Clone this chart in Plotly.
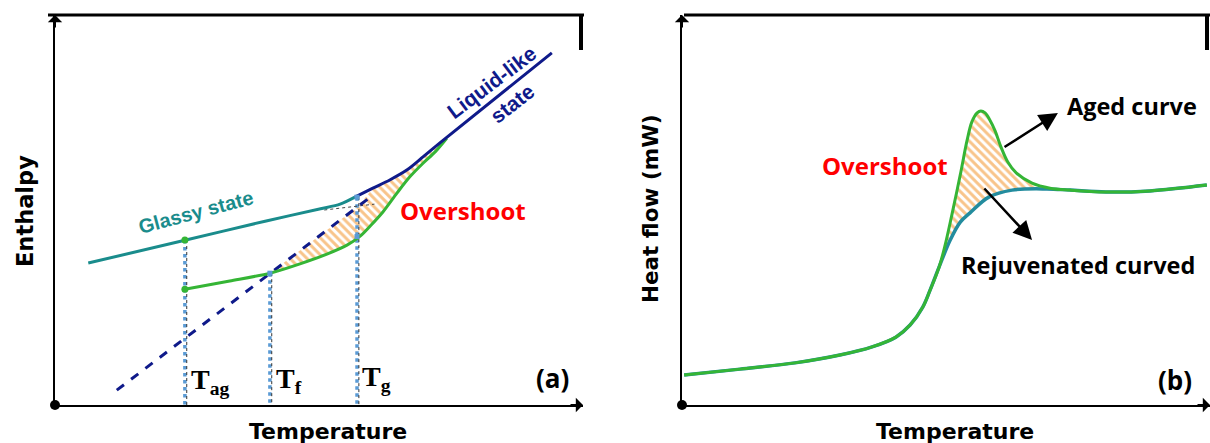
import plotly.graph_objects as go

# ---------------- Panel (a): enthalpy vs temperature (arbitrary units 0-100) ----------------
glassy_T = [6.3, 24.8, 40.0, 50.3, 54.0, 56.8]
glassy_H = [36.4, 42.3, 47.2, 50.3, 51.5, 53.3]

liquid_T = [56.8, 60.2, 63.4, 66.7, 69.7, 72.9, 94.1]
liquid_H = [53.3, 55.6, 57.7, 60.3, 63.6, 67.2, 90.3]

extrap_T = [11.7, 60.0]
extrap_H = [3.8, 53.6]

aged_T = [24.6, 33.1, 40.7, 46.4, 51.5, 55.3, 57.8, 59.7, 62.1, 64.8, 67.2, 69.7, 72.0, 74.2]
aged_H = [29.7, 31.8, 33.8, 36.2, 38.7, 41.0, 43.3, 45.9, 49.5, 54.4, 58.5, 62.0, 64.9, 68.4]

# hatched overshoot region (upper boundary: extrapolated liquid line then liquid curve)
hatchA_upper_T = [40.7, 57.4, 60.2, 63.4, 66.7, 69.7, 72.9, 74.2]
hatchA_upper_H = [33.8, 50.9, 55.6, 57.7, 60.3, 63.6, 67.2, 68.6]

T_ag, T_f, T_g = 24.6, 40.7, 57.2
T_ag_top, T_f_top, T_g_top = 42.3, 33.8, 53.3
T_g_green = 43.2
aged_start_H = 29.7

temp_labels = ["T<sub>ag</sub>", "T<sub>f</sub>", "T<sub>g</sub>"]

# ---------------- Panel (b): heat flow vs temperature ----------------
rejuv_T = [0.4, 11.0, 21.4, 29.9, 36.0, 40.5, 43.2, 45.6, 47.0, 48.7, 50.8, 52.7, 54.5,
           58.1, 62.5, 69.1, 73.5, 80.3, 88.6, 99.4]
rejuv_HF = [7.7, 9.2, 10.8, 12.8, 14.9, 17.4, 20.5, 25.1, 29.5, 35.4, 42.3, 46.9, 49.2,
            53.3, 55.1, 55.4, 55.1, 54.6, 54.9, 56.4]

aged_b_T = [0.4, 11.0, 21.4, 29.9, 36.0, 40.5, 43.2, 45.6, 47.0, 48.7, 49.8, 51.1, 52.7,
            54.0, 54.9, 55.9, 56.6, 57.4, 58.3, 59.3, 60.4, 61.7, 63.3, 66.3, 69.7, 73.5,
            80.3, 88.6, 99.4]
aged_b_HF = [7.7, 9.2, 10.8, 12.8, 14.9, 17.4, 20.5, 25.1, 29.5, 35.4, 40.8, 48.7, 59.0,
             67.9, 72.6, 74.9, 75.4, 74.9, 73.1, 70.3, 66.2, 62.3, 59.5, 56.9, 55.6, 55.1,
             54.6, 54.9, 56.4]

GREEN = "#35b535"
TEAL = "#1a8c8c"
TEAL_B = "#238c9e"
NAVY = "#0f1a8a"
LBLUE = "#5b9bd5"
ORANGE = "#f28a16"
RED = "#ff0000"

HATCH = dict(shape="\\", fgcolor=ORANGE, bgcolor="rgba(255,255,255,0)", size=6, solidity=0.5)

fig = go.Figure()

# ---- panel a traces ----
hx = hatchA_upper_T + aged_T[2:][::-1]
hy = hatchA_upper_H + aged_H[2:][::-1]
fig.add_trace(go.Scatter(x=hx, y=hy, mode="lines", fill="toself", line=dict(width=0),
                         fillcolor="rgba(255,255,255,0)", fillpattern=HATCH,
                         xaxis="x", yaxis="y", hoverinfo="skip"))

for t, top in [(T_ag, T_ag_top), (T_f, T_f_top), (T_g, T_g_top)]:
    fig.add_trace(go.Scatter(x=[t, t], y=[top, 0], mode="lines",
                             line=dict(color=LBLUE, width=3.5, dash="dot"),
                             xaxis="x", yaxis="y", hoverinfo="skip"))
    fig.add_trace(go.Scatter(x=[t + 0.35, t + 0.35], y=[top, 0], mode="lines",
                             line=dict(color="#333333", width=1, dash="dot"),
                             xaxis="x", yaxis="y", hoverinfo="skip"))

fig.add_trace(go.Scatter(x=[51.0, 60.5], y=[50.0, 51.5], mode="lines",
                         line=dict(color="#444444", width=1, dash="dot"),
                         xaxis="x", yaxis="y", hoverinfo="skip"))

fig.add_trace(go.Scatter(x=extrap_T, y=extrap_H, mode="lines",
                         line=dict(color=NAVY, width=3, dash="dash"),
                         xaxis="x", yaxis="y", hoverinfo="skip"))
fig.add_trace(go.Scatter(x=glassy_T, y=glassy_H, mode="lines", line_shape="spline",
                         line=dict(color=TEAL, width=3, smoothing=0.8),
                         xaxis="x", yaxis="y", hoverinfo="skip"))
fig.add_trace(go.Scatter(x=aged_T, y=aged_H, mode="lines", line_shape="spline",
                         line=dict(color=GREEN, width=3, smoothing=0.8),
                         xaxis="x", yaxis="y", hoverinfo="skip"))
fig.add_trace(go.Scatter(x=liquid_T, y=liquid_H, mode="lines", line_shape="spline",
                         line=dict(color=NAVY, width=3, smoothing=0.8),
                         xaxis="x", yaxis="y", hoverinfo="skip"))
fig.add_trace(go.Scatter(x=[T_ag, T_ag], y=[T_ag_top, aged_start_H], mode="markers",
                         marker=dict(color=GREEN, size=7), xaxis="x", yaxis="y", hoverinfo="skip"))
fig.add_trace(go.Scatter(x=[T_f, T_g, T_g], y=[T_f_top, T_g_green, T_g_top], mode="markers",
                         marker=dict(color=LBLUE, size=5, symbol="square"),
                         xaxis="x", yaxis="y", hoverinfo="skip"))

# ---- panel b traces ----
fig.add_trace(go.Scatter(x=aged_b_T[9:26] + rejuv_T[9:17][::-1],
                         y=aged_b_HF[9:26] + rejuv_HF[9:17][::-1],
                         mode="lines", fill="toself", line=dict(width=0),
                         fillcolor="rgba(255,255,255,0)", fillpattern=HATCH,
                         xaxis="x2", yaxis="y2", hoverinfo="skip"))
fig.add_trace(go.Scatter(x=rejuv_T, y=rejuv_HF, mode="lines", line_shape="spline",
                         line=dict(color=TEAL_B, width=3.5), xaxis="x2", yaxis="y2", hoverinfo="skip"))
fig.add_trace(go.Scatter(x=aged_b_T, y=aged_b_HF, mode="lines", line_shape="spline",
                         line=dict(color=GREEN, width=3), xaxis="x2", yaxis="y2", hoverinfo="skip"))

# origin dots
fig.add_trace(go.Scatter(x=[0], y=[0], mode="markers", marker=dict(color="black", size=10),
                         cliponaxis=False, xaxis="x", yaxis="y", hoverinfo="skip"))
fig.add_trace(go.Scatter(x=[0], y=[0], mode="markers", marker=dict(color="black", size=10),
                         cliponaxis=False, xaxis="x2", yaxis="y2", hoverinfo="skip"))

ydom = [1 - 405 / 443, 1 - 15 / 443]
ax_common = dict(range=[0, 100], showgrid=False, zeroline=False, showticklabels=False,
                 ticks="", showline=True, linecolor="black", linewidth=2)
fig.update_layout(
    width=1210, height=443, margin=dict(l=0, r=0, t=0, b=0),
    paper_bgcolor="white", plot_bgcolor="white", showlegend=False,
    xaxis=dict(domain=[55 / 1210, 583 / 1210], anchor="y", **ax_common),
    yaxis=dict(domain=ydom, anchor="x", **ax_common),
    xaxis2=dict(domain=[682 / 1210, 1.0], anchor="y2", **ax_common),
    yaxis2=dict(domain=ydom, anchor="x2", **ax_common),
)

SANS = "DejaVu Sans"
ARIAL = "Liberation Sans"
CAL = "Open Sans"
SERIF = "Liberation Serif"
ann = []

def txt(text, x, y, xref, yref, size, color="black", family=SANS, angle=0, bold=True):
    ann.append(dict(text=f"<b>{text}</b>" if bold else text, x=x, y=y, xref=xref, yref=yref,
                    showarrow=False, textangle=angle, xanchor="center", yanchor="middle",
                    font=dict(size=size, color=color, family=family)))

# axis titles
txt("Enthalpy", 25 / 1210, 1 - 211 / 443, "paper", "paper", 22.5, angle=-90)
txt("Temperature", 328 / 1210, 1 - 431 / 443, "paper", "paper", 22)
txt("Heat flow (mW)", 650 / 1210, 1 - 209 / 443, "paper", "paper", 21.5, angle=-90)
txt("Temperature", 955 / 1210, 1 - 431 / 443, "paper", "paper", 22)

# panel a labels
txt("Glassy state", 26.7, 49.5, "x", "y", 20, color=TEAL, family=ARIAL, angle=-15)
txt("Liquid-like", 82.6, 82.8, "x", "y", 21, color=NAVY, family=ARIAL, angle=-37)
txt("state", 86.6, 77.2, "x", "y", 21, color=NAVY, family=ARIAL, angle=-38)
txt("Overshoot", 77.3, 50.0, "x", "y", 24, color=RED, family=CAL)
for lab, tx, ty in zip(temp_labels, [T_ag + 4.7, T_f + 3.6, T_g + 3.6], [6.0, 6.4, 6.9]):
    txt(lab, tx, ty, "x", "y", 28, family=SERIF)
txt("(a)", 94.3, 6.9, "x", "y", 26, family=CAL)

# panel b labels
txt("Overshoot", 38.4, 61.3, "x2", "y2", 24, color=RED, family=CAL)
txt("Aged curve", 85.2, 76.7, "x2", "y2", 23.5, family=CAL)
txt("Rejuvenated curved", 75.0, 35.9, "x2", "y2", 23.5, family=CAL)
txt("(b)", 93.4, 6.4, "x2", "y2", 26, family=CAL)

# pointer arrows in panel b
ann.append(dict(x=71.2, y=74.9, ax=60.8, ay=65.9, xref="x2", yref="y2", axref="x2", ayref="y2",
                showarrow=True, arrowhead=2, arrowsize=1.5, arrowwidth=2.5, arrowcolor="black", text=""))
ann.append(dict(x=66.3, y=42.3, ax=57.0, ay=55.9, xref="x2", yref="y2", axref="x2", ayref="y2",
                showarrow=True, arrowhead=2, arrowsize=1.5, arrowwidth=2.5, arrowcolor="black", text=""))

# axis arrowheads
for xr, yr in [("x", "y"), ("x2", "y2")]:
    ann.append(dict(x=0, y=1, xref=f"{xr} domain", yref=f"{yr} domain", ax=0, ay=14,
                    showarrow=True, arrowhead=1, arrowsize=1.2, arrowwidth=2, arrowcolor="black", text=""))
    ann.append(dict(x=1, y=0, xref=f"{xr} domain", yref=f"{yr} domain", ax=-14, ay=0,
                    showarrow=True, arrowhead=1, arrowsize=1.2, arrowwidth=2, arrowcolor="black", text=""))
fig.update_layout(annotations=ann)

# top frame lines with the short thick right mark
shapes = []
for x0, x1 in [(48, 584), (684, 1210)]:
    shapes.append(dict(type="line", xref="paper", yref="paper", x0=x0 / 1210, x1=x1 / 1210,
                       y0=1 - 15 / 443, y1=1 - 15 / 443, line=dict(color="black", width=3)))
for xm in [581, 1207]:
    shapes.append(dict(type="line", xref="paper", yref="paper", x0=xm / 1210, x1=xm / 1210,
                       y0=1 - 14 / 443, y1=1 - 50 / 443, line=dict(color="black", width=4)))
fig.update_layout(shapes=shapes)

fig.write_html("out.html")
